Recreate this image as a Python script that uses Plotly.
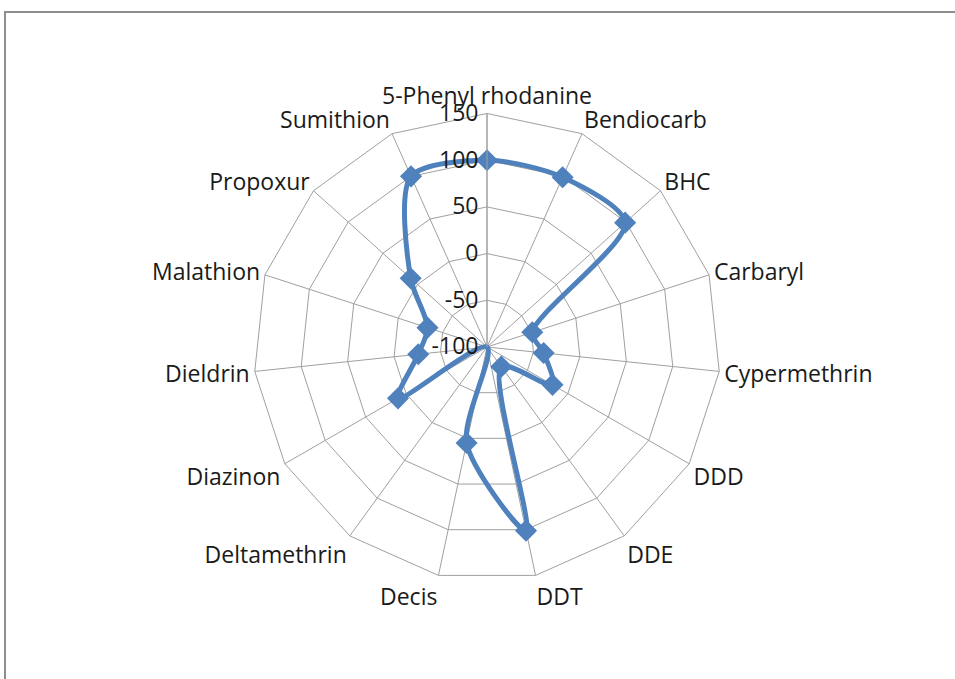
import plotly.graph_objects as go

categories = ["5-Phenyl rhodanine", "Bendiocarb", "BHC", "Carbaryl", "Cypermethrin",
              "DDD", "DDE", "DDT", "Decis", "Deltamethrin", "Diazinon", "Dieldrin",
              "Malathion", "Propoxur", "Sumithion"]
values = [100, 99, 99, -49, -39, -19, -74, 101, 5, -100, 10, -26, -33, 10, 100]
tick_vals = [-100, -50, 0, 50, 100, 150]
tick_text = ["-100", "-50", "0", "50", "100", "150"]
axis_min, axis_max = -100, 150

# radial axis is drawn from 0 (= axis_min) so that plotly's polygon grid
# handles the negative part of the scale correctly
r_plot = [v - axis_min for v in values]
tick_plot = [t - axis_min for t in tick_vals]

W, H = 955, 679
cx, cy, R = 487, 347, 233.5
BLUE = "#4F81BD"

fig = go.Figure()
fig.add_trace(go.Scatterpolar(
    r=r_plot + r_plot[:1],
    theta=categories + categories[:1],
    mode="lines",
    line=dict(color=BLUE, width=5, shape="spline", smoothing=0.8),
    showlegend=False,
))
fig.add_trace(go.Scatterpolar(
    r=r_plot,
    theta=categories,
    mode="markers",
    marker=dict(symbol="diamond", size=17, color=BLUE),
    showlegend=False,
))

fig.update_layout(
    width=W, height=H,
    margin=dict(l=0, r=0, t=0, b=0),
    paper_bgcolor="white",
    plot_bgcolor="white",
    font=dict(family="Open Sans", size=23, color="#1a1a1a"),
    polar=dict(
        domain=dict(x=[(cx - R) / W, (cx + R) / W],
                    y=[(H - cy - R) / H, (H - cy + R) / H]),
        bgcolor="white",
        gridshape="linear",
        angularaxis=dict(
            direction="clockwise", rotation=90,
            showline=True, linecolor="#a0a0a0", linewidth=1,
            showgrid=True, gridcolor="#a0a0a0", gridwidth=1,
            ticks="", tickfont=dict(size=23, color="#1a1a1a"),
        ),
        radialaxis=dict(
            range=[0, axis_max - axis_min], angle=90, tickangle=90,
            side="counterclockwise",
            tickvals=tick_plot, ticktext=tick_text,
            showline=True, linecolor="#a0a0a0", linewidth=1,
            showgrid=True, gridcolor="#a0a0a0", gridwidth=1,
            ticks="", tickfont=dict(size=23, color="#1a1a1a"),
        ),
    ),
    shapes=[dict(type="rect", xref="paper", yref="paper",
                 x0=5 / W, x1=1.05, y0=-0.05, y1=1 - 12 / H,
                 line=dict(color="#8e8e8e", width=2), layer="below")],
)

fig.write_html("out.html", config={"displayModeBar": False},
               post_script="document.body.style.margin='0';document.body.style.overflow='hidden';")
